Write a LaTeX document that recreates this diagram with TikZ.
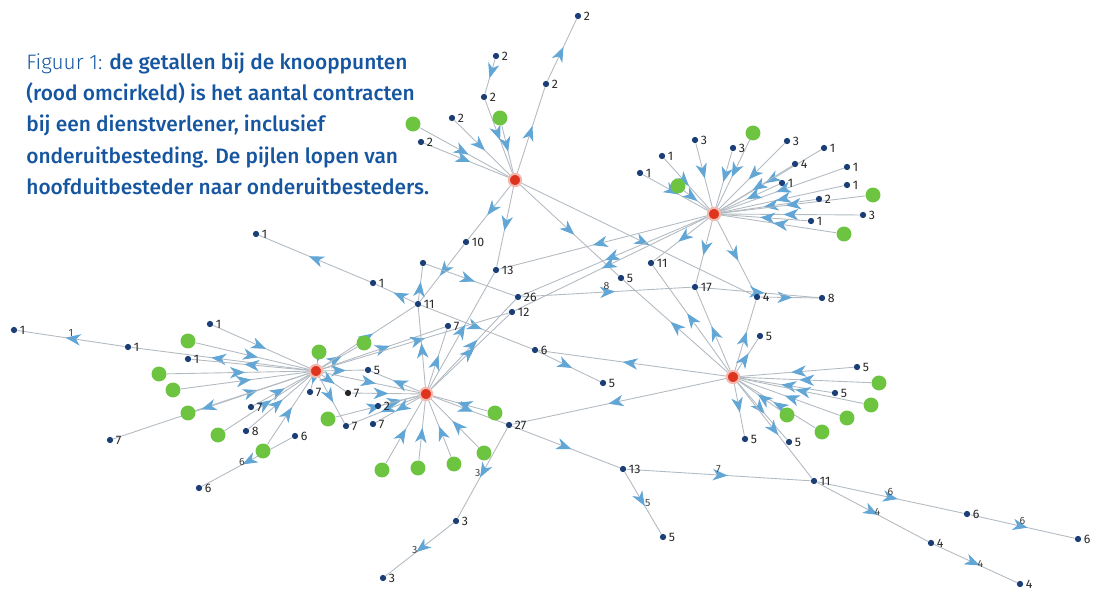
\documentclass[tikz,border=0pt]{standalone}
\usepackage{fontspec}
\setsansfont{Fira Sans}
\newfontfamily\capfont{Fira Sans}[UprightFont=* Medium]
\newfontfamily\capthin{Fira Sans}[UprightFont=* Light]
\usetikzlibrary{arrows.meta,decorations.markings,backgrounds}
\definecolor{captionblue}{RGB}{22,86,160}
\definecolor{edgegray}{RGB}{178,186,194}
\definecolor{tipblue}{RGB}{98,166,214}
\definecolor{dotblue}{RGB}{28,62,118}
\definecolor{hubred}{RGB}{222,52,30}
\definecolor{leafgreen}{RGB}{108,196,64}

\begin{document}
\begin{tikzpicture}[line cap=round,line join=round,x=0.02cm,y=-0.02cm,
    hub/.style={circle, fill=hubred, draw=hubred!35, line width=1.2pt, minimum size=7pt, inner sep=0pt},
    dot/.style={circle, fill=dotblue, minimum size=3.6pt, inner sep=0pt},
    leaf/.style={circle, fill=leafgreen, minimum size=8.5pt, inner sep=0pt},
    cntlab/.style={font=\sffamily\fontsize{7}{7}\selectfont, text=black!85, inner sep=1.2pt},
    cnt/.style={label={[cntlab]right:#1}},
    elab/.style={font=\sffamily\fontsize{6}{6}\selectfont, text=black!75, inner sep=1pt, above},
    conn/.style={draw=edgegray, line width=0.5pt, postaction={decorate},
      decoration={markings, mark=at position #1 with
        {\arrow{Stealth[length=8.5pt,width=6.5pt,inset=2.5pt,color=tipblue]}}}},
    conn/.default=0.55]
\useasboundingbox (0,0) rectangle (1108,594);

% caption
\node[anchor=north west, align=left, text=captionblue, inner sep=0pt,
      font=\capfont\fontsize{11.9}{17.9}\selectfont] (caption) at (26,52)
  {{\capthin Figuur 1:} de getallen bij de knooppunten\\
   (rood omcirkeld) is het aantal contracten\\
   bij een dienstverlener, inclusief\\
   onderuitbesteding. De pijlen lopen van\\
   hoofduitbesteder naar onderuitbesteders.};

% hubs
\node[hub] (h1) at (515,180) {};
\node[hub] (h2) at (714,214) {};
\node[hub] (h3) at (316,371) {};
\node[hub] (h4) at (426,394) {};
\node[hub] (h5) at (733,377) {};

% contractors
\foreach \n/\x/\y/\c in {t1/578/16/2, t2/546/84/2, t3/496/56/2, t4/484/97/2, t5/452/118/2, t6/421/142/2,
    r1/695/140/3, r2/662/156/1, r3/640/173/1, r4/733/148/3, r5/787/141/3, r6/824/148/1, r7/795/164/4,
    r8/847/167/1, r9/782/183/1, r10/847/185/1, r11/819/199/2, r12/863/215/3, r13/811/221/1,
    m1/256/234/1, m2/373/283/1, m4/466/242/10, m5/496/270/13, m6/418/304/11, m7/448/326/7,
    m8/518/297/26, m9/512/312/12, m10/535/350/6, m11/603/383/5, m12/621/278/5, m13/651/263/11,
    m14/695/287/17, m15/757/297/4, m16/822/298/8, m17/760/336/5,
    s1/857/367/5, s2/835/393/5, s3/745/439/5, s4/789/442/5,
    b1/623/469/13, b2/814/481/11, b3/967/514/6, b4/1078/539/6, b5/931/543/4, b6/1020/584/4,
    b7/663/537/5, b8/509/425/27, b9/456/521/3, b10/383/578/3,
    c1/368/370/5, c3/378/406/2, c4/346/426/7, c5/373/424/7,
    l1/14/330/1, l2/128/347/1, l3/188/359/1, l4/210/324/1, l5/110/440/7, l6/251/407/7,
    l7/246/431/8, l8/295/436/6, l9/199/488/6, l10/310/392/7}
  \node[dot, cnt=\c] (\n) at (\x,\y) {};
\node[dot] (m3) at (423,263) {};
\node[dot, fill=black!85, cnt=7] (c2) at (348,393) {};

% leaves
\foreach \n/\x/\y in {tg1/413/124, tg2/500/118, rg1/678/186, rg2/753/133, rg3/873/195, rg4/844/234,
    sg1/879/383, sg2/871/405, sg3/847/418, sg4/822/432, sg5/787/415,
    cg1/382/470, cg2/418/468, cg3/454/464, cg4/484/453, cg5/495/413, cg6/328/419,
    lg1/188/341, lg2/159/374, lg3/173/390, lg4/188/413, lg5/218/435, lg6/263/451, lg7/319/352, lg8/364/343}
  \node[leaf] (\n) at (\x,\y) {};

\begin{scope}[on background layer]
% around the hubs
\foreach \a/\b in {t6/h1, tg1/h1, t5/h1, t4/h1, t3/t4, tg2/h1, h1/t2, t2/t1,
    h1/m4, h1/m5, h1/m12, h1/m15, m4/m6, m6/m3, m3/m8, m2/m1, m6/m2, m6/m10, m10/m11,
    r1/h2, r2/h2, r3/h2, r4/h2, r5/h2, r6/h2, r7/h2, r8/h2, r9/h2, r10/h2, r11/h2, r12/h2, r13/h2,
    rg1/h2, rg2/h2, rg3/h2, rg4/h2, h2/m5, h2/m8, h2/m9, h2/m13, h2/m14, h2/m15,
    h5/m10, h5/b8, h5/m12, h5/m13, h5/m14, h5/m15, h5/m17, m15/m16,
    s1/h5, s2/h5, sg1/h5, sg2/h5, sg3/h5, sg4/h5, sg5/h5, h5/s3, h5/s4, h5/b2,
    h3/l2, h3/l3, l4/h3, lg1/h3, lg2/h3, lg3/h3, lg4/h3, h3/l5, l6/h3, l7/h3, lg5/h3, lg6/h3,
    h3/l10, lg7/h3, h3/lg8, h3/c1, h3/c2, h3/m6, h3/m7, h3/m9, h3/h4, h3/c4,
    h4/c1, c2/h4, c3/h4, h4/c4, h4/c5, cg6/h4, h4/m7, h4/m6, h4/m8, h4/m9, h4/m5,
    cg1/h4, cg2/h4, cg3/h4, cg4/h4, cg5/h4, h4/b8}
  \draw[conn] (\a) -- (\b);
% chains
\draw[conn] (m8) -- node[elab]{8} (m14);
\draw[conn] (m14) -- (m16);
\draw[conn] (l2) -- node[elab]{1} (l1);
\draw[conn] (l8) -- node[elab, left]{6} (l9);
\draw[conn] (b8) -- node[elab, left]{3} (b9);
\draw[conn] (b9) -- node[elab, left]{3} (b10);
\draw[conn] (b8) -- (b1);
\draw[conn] (b1) -- node[elab]{7} (b2);
\draw[conn] (b1) -- node[elab, right]{5} (b7);
\draw[conn] (b2) -- node[elab]{6} (b3);
\draw[conn] (b3) -- node[elab]{6} (b4);
\draw[conn] (b2) -- node[elab, right]{4} (b5);
\draw[conn] (b5) -- node[elab, right]{4} (b6);
\end{scope}
\end{tikzpicture}
\end{document}
